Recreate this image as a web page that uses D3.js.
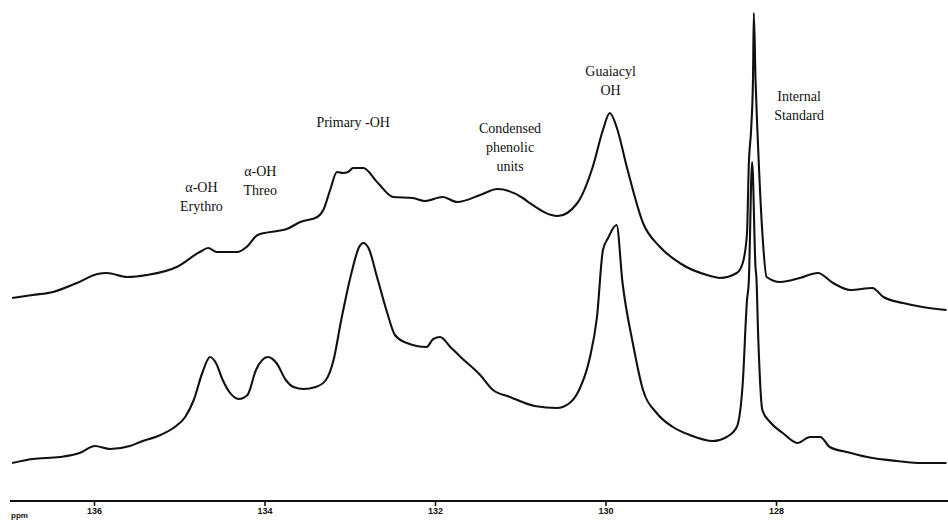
<!DOCTYPE html>
<html>
<head>
<meta charset="utf-8">
<script src="https://cdnjs.cloudflare.com/ajax/libs/d3/7.8.5/d3.min.js"></script>
<style>
	body { margin: 0; background: white; }
	svg { display: block; }
</style>
</head>
<body>
<div id="chart"></div>
<script>
var w = 948,
	h = 520,
	axisY = 501; //baseline of the ppm axis

// chemical shift (ppm) and signal height (arbitrary units) of the top spectrum
var upperPpm = [136.96,136.72,136.48,136.20,135.96,135.85,135.61,135.38,135.03,134.76,134.66,134.56,134.32,134.21,134.08,133.85,133.74,133.58,133.38,133.31,133.23,133.15,133.08,133.02,132.96,132.84,132.68,132.49,132.26,132.12,131.91,131.74,131.47,131.27,130.97,130.89,130.56,130.33,130.15,130.03,129.95,129.87,129.75,129.56,129.36,129.13,128.77,128.66,128.46,128.39,128.34,128.32,128.29,128.27,128.26,128.24,128.22,128.20,128.16,128.11,127.95,127.72,127.51,127.33,127.13,126.87,126.74,126.51,126.28,126.00]
var upperVal = [202,205,208,217,226,227,223,225,233,248,252,248,248,253,265,269,271,278,283,290,310,328,327,328,332,332,318,303,302,299,303,298,305,311,302,297,284,297,333,370,387,373,333,277,253,237,224,222,227,237,267,333,373,420,487,420,373,333,267,223,218,222,227,217,210,212,203,197,193,190]

// bottom spectrum
var lowerPpm = [136.96,136.72,136.40,136.17,135.99,135.81,135.58,135.46,135.22,135.07,134.93,134.83,134.73,134.64,134.57,134.49,134.42,134.30,134.20,134.10,133.96,133.86,133.75,133.66,133.54,133.40,133.28,133.19,133.10,132.98,132.89,132.84,132.78,132.68,132.56,132.47,132.33,132.10,132.02,131.94,131.82,131.70,131.47,131.32,131.12,130.83,130.57,130.42,130.31,130.19,130.10,130.03,129.97,129.87,129.80,129.68,129.56,129.40,129.21,129.01,128.74,128.58,128.46,128.39,128.34,128.32,128.28,128.24,128.23,128.21,128.16,128.07,127.92,127.75,127.60,127.48,127.37,127.17,126.93,126.58,126.28,126.00]
var lowerVal = [37,41,43,47,54,51,54,58,65,72,83,100,127,143,137,120,109,101,105,130,143,137,120,113,111,113,120,140,180,227,253,257,252,223,187,165,157,153,161,163,153,143,125,110,103,94,92,97,110,140,183,250,262,275,217,157,110,87,73,65,59,63,73,117,200,217,338,232,223,167,90,78,67,57,63,63,53,48,43,39,37,37]

var axisTicks = [136, 134, 132, 130, 128]

// peak labels: text lines, ppm position of the label centre, height of first baseline
var peakLabels = [
	{lines: ["\u03b1-OH", "Erythro"],                ppm: 134.74, top: 308},
	{lines: ["\u03b1-OH", "Threo"],                  ppm: 134.05, top: 324},
	{lines: ["Primary -OH"],                         ppm: 132.96, top: 373},
	{lines: ["Condensed", "phenolic", "units"],      ppm: 131.12, top: 367},
	{lines: ["Guaiacyl", "OH"],                      ppm: 129.94, top: 424},
	{lines: ["Internal", "Standard"],                ppm: 127.73, top: 399}
]

var x = d3.scaleLinear()
	.domain([137, 126]) //NMR axis runs high to low
	.range([8.75, 946.5])

var y = d3.scaleLinear()
	.domain([0, 500])
	.range([500, 0])

var svg = d3.select("#chart")
	.append("svg")
	.attr("width", w)
	.attr("height", h)

var line = d3.line()
	.x(function(d) { return x(d[0]) })
	.y(function(d) { return y(d[1]) })
	.curve(d3.curveMonotoneX)

var traces = [
	d3.zip(upperPpm, upperVal).sort(function(a, b) { return b[0] - a[0] }),
	d3.zip(lowerPpm, lowerVal).sort(function(a, b) { return b[0] - a[0] })
]

svg.selectAll(".trace")
	.data(traces)
	.enter()
	.append("path")
	.attr("class", "trace")
	.attr("d", line)
	.attr("fill", "none")
	.attr("stroke", "#111")
	.attr("stroke-width", 2.1)
	.attr("stroke-linejoin", "round")

// ppm axis
var axis = d3.axisBottom(x)
	.tickValues(axisTicks)
	.tickSize(5)
	.tickPadding(2)
	.tickFormat(d3.format("d"))

var axisG = svg.append("g")
	.attr("transform", "translate(0," + axisY + ")")
	.call(axis)

axisG.select(".domain").remove()
axisG.append("line")
	.attr("x1", 10)
	.attr("x2", w)
	.attr("stroke", "#111")
	.attr("stroke-width", 2.2)
axisG.selectAll(".tick line")
	.attr("stroke", "#111")
	.attr("stroke-width", 1.6)
axisG.selectAll(".tick text")
	.attr("fill", "#111")
	.attr("font-family", "Liberation Sans Narrow, Liberation Sans, sans-serif")
	.attr("font-weight", "bold")
	.attr("font-size", 9)

svg.append("text")
	.attr("x", 11)
	.attr("y", 518)
	.attr("font-family", "Liberation Sans Narrow, Liberation Sans, sans-serif")
	.attr("font-weight", "bold")
	.attr("font-size", 8)
	.attr("fill", "#111")
	.text("ppm")

// peak annotations
var labelG = svg.selectAll(".peakLabel")
	.data(peakLabels)
	.enter()
	.append("text")
	.attr("class", "peakLabel")
	.attr("text-anchor", "middle")
	.attr("font-family", "Liberation Serif, Times New Roman, serif")
	.attr("font-size", 14)
	.attr("fill", "#111")
	.attr("transform", function(d) { return "translate(" + x(d.ppm) + "," + y(d.top) + ")" })

labelG.selectAll("tspan")
	.data(function(d) { return d.lines })
	.enter()
	.append("tspan")
	.attr("x", 0)
	.attr("y", function(d, i) { return i * 19 })
	.text(function(d) { return d })
</script>
</body>
</html>
